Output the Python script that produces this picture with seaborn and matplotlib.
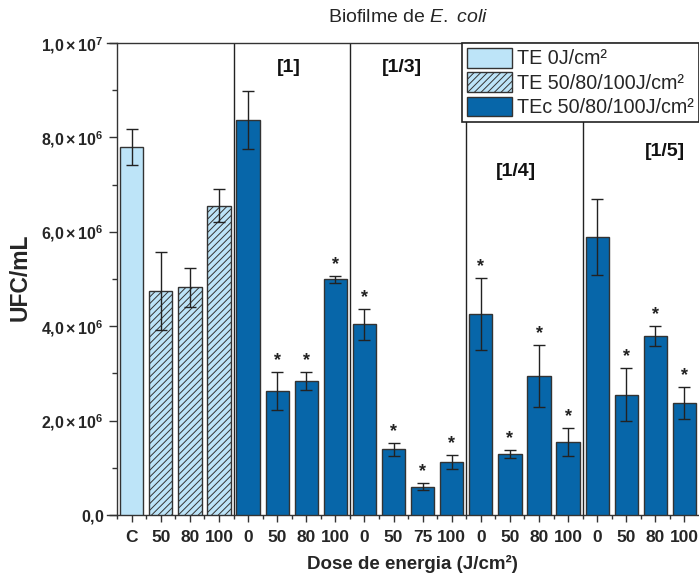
import numpy as np
import pandas as pd
import matplotlib
matplotlib.use("Agg")
import matplotlib.pyplot as plt
import matplotlib.patches as mpatches
from matplotlib.ticker import FixedLocator, FuncFormatter
import seaborn as sns

# ---- data ----
tick_labels = ["C", "50", "80", "100",
               "0", "50", "80", "100",
               "0", "50", "75", "100",
               "0", "50", "80", "100",
               "0", "50", "80", "100"]
groups = ["TE 0J/cm²"] + ["TE 50/80/100J/cm²"] * 3 + ["TEc 50/80/100J/cm²"] * 16
means = [7.80e6, 4.75e6, 4.82e6, 6.55e6,
         8.37e6, 2.63e6, 2.84e6, 4.99e6,
         4.04e6, 1.39e6, 0.60e6, 1.13e6,
         4.26e6, 1.29e6, 2.94e6, 1.55e6,
         5.89e6, 2.55e6, 3.79e6, 2.37e6]
errors = [0.38e6, 0.83e6, 0.42e6, 0.35e6,
          0.62e6, 0.40e6, 0.19e6, 0.08e6,
          0.33e6, 0.13e6, 0.08e6, 0.15e6,
          0.77e6, 0.08e6, 0.66e6, 0.29e6,
          0.80e6, 0.56e6, 0.21e6, 0.34e6]
significant = [False, False, False, False,
               False, True, True, True,
               True, True, True, True,
               True, True, True, True,
               False, True, True, True]
dilutions = ["[1]", "[1/3]", "[1/4]", "[1/5]"]
dilution_pos = [(5.39, 9.48e6), (9.29, 9.48e6), (13.21, 7.28e6), (18.33, 7.71e6)]

palette = {"TE 0J/cm²": "#BDE4F8",
           "TE 50/80/100J/cm²": "#BDE4F8",
           "TEc 50/80/100J/cm²": "#0766A9"}
edge = "#333333"

df = pd.DataFrame({"pos": np.arange(len(means)), "val": means,
                   "grupo": groups})

sns.set_theme(style="white")
plt.rcParams["font.family"] = ["Liberation Sans", "DejaVu Sans"]
plt.rcParams["mathtext.fontset"] = "custom"
plt.rcParams["mathtext.rm"] = "Liberation Sans"
plt.rcParams["mathtext.bf"] = "Liberation Sans:bold"
plt.rcParams["mathtext.it"] = "Liberation Sans:italic"
plt.rcParams["hatch.linewidth"] = 0.7
plt.rcParams["hatch.color"] = "#222222"

fig = plt.figure(figsize=(6.99, 5.76), dpi=100)
ax = fig.add_axes([107 / 699, 1 - 515 / 576, 592 / 699, 472 / 576])

sns.barplot(data=df, x="pos", y="val", hue="grupo", palette=palette,
            dodge=False, width=0.8, errorbar=None, ax=ax, saturation=1,
            edgecolor=edge, linewidth=1.0, legend=False, zorder=3)

for container, level in zip(ax.containers, palette.keys()):
    if level == "TE 50/80/100J/cm²":
        for p in container:
            p.set_hatch("/////")

x = np.arange(len(means))
ax.errorbar(x, means, yerr=errors, fmt="none", ecolor="#222222",
            elinewidth=1.0, capsize=4, capthick=1.0, zorder=4)

for xi, m, e, s in zip(x, means, errors, significant):
    if s:
        ax.annotate("*", xy=(xi, m + e), xytext=(0, 2),
                    textcoords="offset points", ha="center", va="bottom",
                    fontsize=13, fontweight="bold", color="#222222")

for lbl, (lx, ly) in zip(dilutions, dilution_pos):
    ax.text(lx, ly, lbl, ha="center", va="center", fontsize=14,
            fontweight="bold", color="#111111")

for sep in [3.5, 7.5, 11.5, 15.5]:
    ax.axvline(sep, color="#222222", lw=1.0, zorder=2)

ax.set_xlim(-0.85, 19.5)
ax.set_ylim(0, 1.0e7)

# axes frame
ax.spines["left"].set_position(("data", -0.52))
ax.spines["right"].set_visible(False)
for s in ["left", "bottom", "top"]:
    ax.spines[s].set_color("#333333")
    ax.spines[s].set_linewidth(1.0)

ax.xaxis.set_major_locator(FixedLocator(x))
ax.xaxis.set_minor_locator(FixedLocator(np.arange(-0.5, 19.0, 1.0)))
ax.set_xticklabels(tick_labels, fontsize=12.5, fontweight="bold",
                   family=["Liberation Sans Narrow", "Liberation Sans"])


def sci_fmt(v, _):
    if abs(v) < 1:
        return r"$\mathbf{0{,}0}$"
    if v < 0:
        return ""
    exp = int(np.floor(np.log10(v)))
    mant = v / 10 ** exp
    return r"$\mathbf{%d{,}%d\times10^{%d}}$" % (int(mant + 1e-9), int(round(mant * 10)) % 10, exp)


ax.yaxis.set_major_locator(FixedLocator([0, 2e6, 4e6, 6e6, 8e6, 1e7]))
ax.yaxis.set_minor_locator(FixedLocator([1e6, 3e6, 5e6, 7e6, 9e6]))
ax.yaxis.set_major_formatter(FuncFormatter(sci_fmt))
ax.tick_params(axis="y", which="major", direction="out", length=6, width=1,
               labelsize=11.5, left=True, color="#333333", pad=3)
ax.tick_params(axis="y", which="minor", direction="out", length=3.5, width=1,
               left=True, color="#333333")
ax.tick_params(axis="x", which="major", direction="out", length=5, width=1,
               bottom=True, color="#333333", pad=6)
ax.tick_params(axis="x", which="minor", direction="out", length=3, width=1,
               bottom=True, color="#333333")

ax.set_xlabel("Dose de energia (J/cm²)", fontsize=13.5, fontweight="bold")
ax.xaxis.set_label_coords((412 - 107) / 592, -0.085)
ax.set_ylabel("UFC/mL", fontsize=16.5, fontweight="bold")
ax.yaxis.set_label_coords(-0.127, 0.503)

fig.text(408 / 699, 1 - 18 / 576, r"Biofilme de $\it{E.\ coli}$",
         ha="center", va="center", fontsize=14)

handles = [mpatches.Patch(facecolor=palette["TE 0J/cm²"], edgecolor=edge, lw=1.0),
           mpatches.Patch(facecolor=palette["TE 50/80/100J/cm²"], edgecolor=edge,
                          lw=1.0, hatch="/////"),
           mpatches.Patch(facecolor=palette["TEc 50/80/100J/cm²"], edgecolor=edge, lw=1.0)]
leg = ax.legend(handles, list(palette.keys()), loc="upper right",
                bbox_to_anchor=(1.0, 1.0), fontsize=14.2, frameon=True,
                fancybox=False, framealpha=1, edgecolor="#222222",
                handlelength=2.3, handleheight=1.15, handletextpad=0.25,
                labelspacing=0.2, borderpad=0.25, borderaxespad=0)
leg.get_frame().set_linewidth(1.2)
leg.set_zorder(10)

fig.savefig("out.png", dpi=100)
